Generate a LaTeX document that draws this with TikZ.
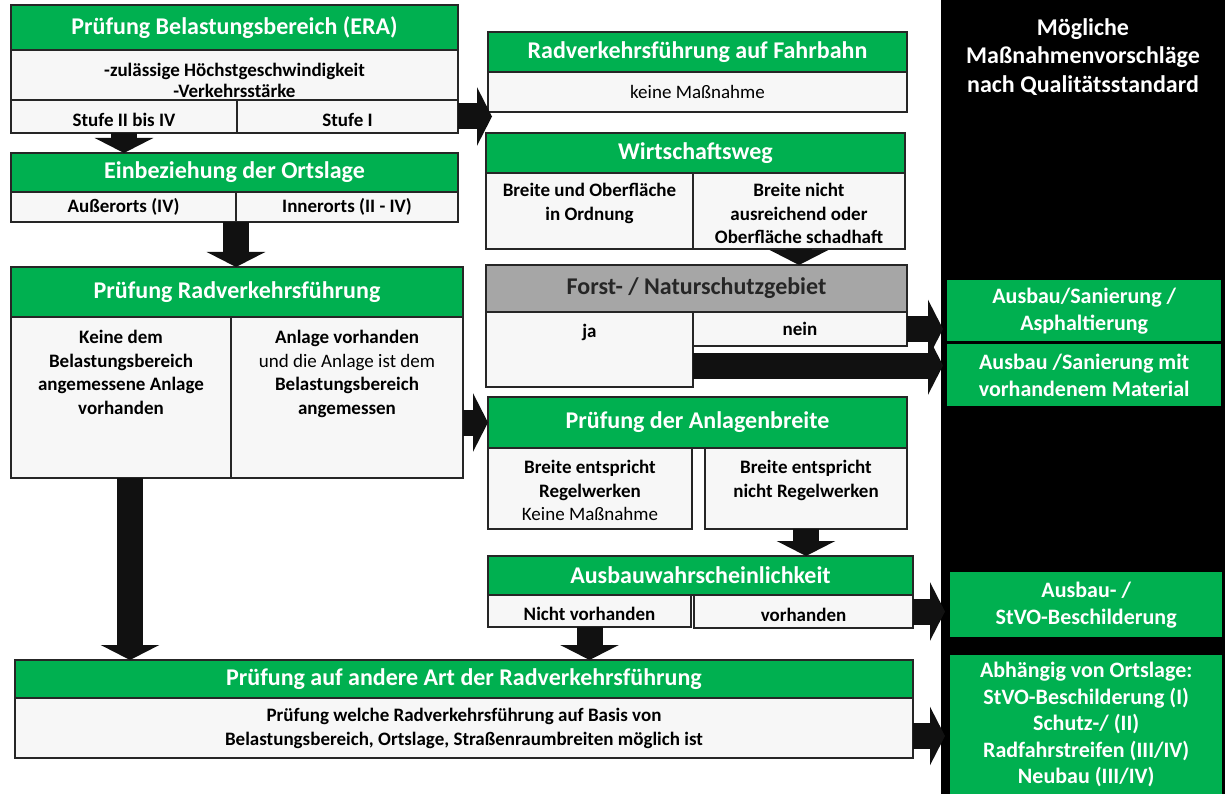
\documentclass[tikz,border=0pt]{standalone}
\usepackage{fontspec}
\setmainfont{Carlito}
\usetikzlibrary{positioning,arrows.meta}

\definecolor{xgreen}{HTML}{00B050}
\definecolor{xgrey}{HTML}{A6A6A6}
\definecolor{cellbg}{HTML}{F7F7F7}
\definecolor{linec}{HTML}{262626}
\definecolor{arrowc}{HTML}{111111}

\tikzset{
  hdr/.style={draw=linec, line width=1.2pt, fill=xgreen, text=white, anchor=north west,
    inner sep=0pt, outer sep=0pt, font=\bfseries\fontsize{24}{28}\selectfont},
  greyhdr/.style={hdr, fill=xgrey, text=linec},
  cell/.style={draw=linec, line width=1.2pt, fill=cellbg, anchor=north west, inner sep=0pt,
    outer sep=0pt, align=center, font=\bfseries\fontsize{19}{21}\selectfont},
  low/.style={text height=20pt},
  celltxt/.style={anchor=north, inner sep=0pt, align=center, font=\bfseries\fontsize{19}{23.5}\selectfont},
  result/.style={fill=xgreen, text=white, anchor=north west, inner sep=0pt, align=center,
    font=\bfseries\fontsize{22}{27}\selectfont},
  blk/.style={draw=arrowc, line width=26pt, -{Triangle[width=58pt,length=15pt]}},
}

\begin{document}
\begin{tikzpicture}[x=1pt, y=-1pt]
    \useasboundingbox (0,0) rectangle (1225,794);
    \fill[white] (0,0) rectangle (1225,794);

    % right column
    \fill[black] (941,0) rectangle (1225,794);
    \node[anchor=north, align=center, text=white, font=\bfseries\fontsize{24}{28.5}\selectfont]
        (panelt) at (1083,15) {Mögliche\\Maßnahmenvorschläge\\nach Qualitätsstandard};
    \node[result, minimum width=274pt, minimum height=61pt] (mass1) at (947,280) {Ausbau/Sanierung /\\Asphaltierung};
    \node[result, minimum width=274pt, minimum height=62pt] (mass2) at (947,344) {Ausbau /Sanierung mit\\vorhandenem Material};
    \node[result, minimum width=272pt, minimum height=65pt] (mass3) at (950,572) {Ausbau- /\\StVO-Beschilderung};
    \node[result, minimum width=272pt, minimum height=139pt, font=\bfseries\fontsize{22}{26.5}\selectfont]
        (mass4) at (950,655) {Abhängig von Ortslage:\\StVO-Beschilderung (I)\\Schutz-/ (II)\\Radfahrstreifen (III/IV)\\Neubau (III/IV)};

    % Belastungsbereich
    \node[hdr, minimum width=447pt, minimum height=45pt] (era) at (11,5) {Prüfung Belastungsbereich (ERA)};
    \node[cell, minimum width=447pt, minimum height=50pt, below=0pt of era] (eraB) {};
    \node[celltxt, font=\bfseries\fontsize{19}{21}\selectfont] (eraBt) at ([yshift=-13pt]eraB.north)
        {-zulässige Höchstgeschwindigkeit\\-Verkehrsstärke};
    \node[cell, low, minimum width=226pt, minimum height=33pt] (stufeA) at (eraB.south west) {Stufe II bis IV};
    \node[cell, low, minimum width=221pt, minimum height=33pt] (stufeB) at (stufeA.north east) {Stufe I};

    % Ortslage
    \node[hdr, minimum width=447pt, minimum height=39pt] (ort) at (11,153) {Einbeziehung der Ortslage};
    \node[cell, minimum width=225pt, minimum height=30pt] (ortA) at (ort.south west) {Außerorts (IV)};
    \node[cell, minimum width=222pt, minimum height=30pt] (ortB) at (ortA.north east) {Innerorts (II - IV)};

    % Radverkehrsfuehrung
    \node[hdr, minimum width=452pt, minimum height=50pt] (pr) at (11,267) {Prüfung Radverkehrsführung};
    \node[cell, minimum width=220pt, minimum height=161pt] (prA) at (pr.south west) {};
    \node[cell, minimum width=232pt, minimum height=161pt] (prB) at (prA.north east) {};
    \node[celltxt] (prAt) at ([yshift=-13pt]prA.north) {Keine dem\\Belastungsbereich\\angemessene Anlage\\vorhanden};
    \node[celltxt] (prBt) at ([yshift=-13pt]prB.north)
        {Anlage vorhanden\\{\mdseries und die Anlage ist dem}\\Belastungsbereich\\angemessen};

    % Fahrbahn
    \node[hdr, minimum width=419pt, minimum height=40pt] (fahr) at (488,32) {Radverkehrsführung auf Fahrbahn};
    \node[cell, minimum width=419pt, minimum height=40pt, below=0pt of fahr, font=\fontsize{19}{21}\selectfont]
        (fahrB) {keine Maßnahme};

    % Wirtschaftsweg
    \node[hdr, minimum width=419pt, minimum height=40pt] (ww) at (486,133) {Wirtschaftsweg};
    \node[cell, minimum width=207pt, minimum height=76pt] (wwA) at (ww.south west) {};
    \node[cell, minimum width=212pt, minimum height=76pt] (wwB) at (wwA.north east) {};
    \node[celltxt] (wwAt) at ([yshift=-10pt]wwA.north) {Breite und Oberfläche\\in Ordnung};
    \node[celltxt] (wwBt) at ([yshift=-10pt]wwB.north) {Breite nicht\\ausreichend oder\\Oberfläche schadhaft};

    % Forst
    \node[greyhdr, minimum width=421pt, minimum height=47pt] (forst) at (486,265) {Forst- / Naturschutzgebiet};
    \node[cell, minimum width=207pt, minimum height=75pt] (ja) at (forst.south west) {};
    \node[celltxt] (jat) at ([yshift=-12pt]ja.north) {ja};
    \node[cell, minimum width=214pt, minimum height=34pt] (nein) at (ja.north east) {nein};

    % Anlagenbreite
    \node[hdr, minimum width=419pt, minimum height=51pt] (anl) at (488,397) {Prüfung der Anlagenbreite};
    \node[cell, minimum width=204pt, minimum height=81pt] (anlA) at (anl.south west) {};
    \node[cell, minimum width=202pt, minimum height=81pt] (anlB) at (705,448) {};
    \node[celltxt] (anlAt) at ([yshift=-12pt]anlA.north) {Breite entspricht\\Regelwerken\\{\mdseries Keine Maßnahme}};
    \node[celltxt] (anlBt) at ([yshift=-12pt]anlB.north) {Breite entspricht\\nicht Regelwerken};

    % Ausbauwahrscheinlichkeit
    \node[hdr, minimum width=425pt, minimum height=39pt] (aus) at (488,556) {Ausbauwahrscheinlichkeit};
    \node[cell, low, minimum width=203pt, minimum height=32pt] (ausA) at (aus.south west) {Nicht vorhanden};
    \node[cell, low, minimum width=219pt, minimum height=33pt] (ausB) at (694,595) {vorhanden};

    % andere Art
    \node[hdr, minimum width=898pt, minimum height=38pt] (art) at (15,660) {Prüfung auf andere Art der Radverkehrsführung};
    \node[cell, minimum width=898pt, minimum height=60pt, below=0pt of art, font=\bfseries\fontsize{19}{24}\selectfont]
        (artB) {Prüfung welche Radverkehrsführung auf Basis von\\Belastungsbereich, Ortslage, Straßenraumbreiten möglich ist};

    % arrows
    \draw[blk] (stufeA.south) -- (stufeA.south |- ort.north);
    \draw[blk] (stufeB.east) -- ([xshift=4pt]stufeB.east -| fahr.west);
    \draw[blk] (ortA.south east) -- (ortA.south east |- pr.north);
    \draw[blk] (prB.east |- anl.west) -- (anl.west);
    \draw[blk] ([xshift=9pt]prA.south) -- ([xshift=9pt]prA.south |- art.north);
    \draw[blk] (wwB.south) -- (wwB.south |- forst.north);
    \draw[blk] (nein.east) -- ([xshift=-4pt]nein.east -| mass1.west);
    \draw[blk] ([yshift=-16pt]ja.east) -- ([yshift=-16pt, xshift=-4pt]ja.east -| mass2.west);
    \draw[blk] (anlB.south) -- (anlB.south |- aus.north);
    \draw[blk] (ausA.south) -- (ausA.south |- art.north);
    \draw[blk] (ausB.east) -- ([xshift=-5pt]ausB.east -| mass3.west);
    \draw[blk] ([yshift=-8pt]artB.east) -- ([yshift=-8pt, xshift=-5pt]artB.east -| mass4.west);

\end{tikzpicture}
\end{document}
